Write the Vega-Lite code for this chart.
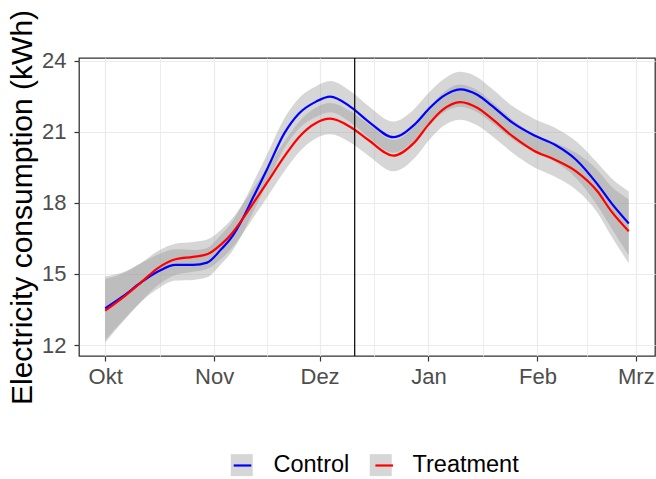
{
  "$schema": "https://vega.github.io/schema/vega-lite/v6.json",
  "width": 576,
  "height": 298,
  "autosize": {"type": "none"},
  "padding": {"left": 79, "top": 58, "right": 1, "bottom": 123},
  "background": "white",
  "config": {
    "font": "Liberation Sans",
    "view": {"stroke": "#333333", "strokeWidth": 1.3},
    "axis": {
      "domain": false,
      "tickColor": "#333333",
      "tickWidth": 1.2,
      "tickSize": 5,
      "labelFont": "Liberation Sans",
      "labelFontSize": 22,
      "labelColor": "#4d4d4d",
      "gridColor": "#ebebeb",
      "titleFont": "Liberation Sans",
      "titleFontSize": 30,
      "titleFontWeight": "normal",
      "titleColor": "#000000"
    }
  },
  "datasets": {
    "smooth": [
      {"date": "2018/10/01", "group": "Control", "y": 13.55, "lo": 12.21, "hi": 14.89},
      {"date": "2018/10/06", "group": "Control", "y": 14.05, "lo": 13.03, "hi": 15.07},
      {"date": "2018/10/11", "group": "Control", "y": 14.62, "lo": 13.80, "hi": 15.44},
      {"date": "2018/10/16", "group": "Control", "y": 15.10, "lo": 14.38, "hi": 15.82},
      {"date": "2018/10/21", "group": "Control", "y": 15.38, "lo": 14.72, "hi": 16.04},
      {"date": "2018/10/26", "group": "Control", "y": 15.38, "lo": 14.75, "hi": 16.01},
      {"date": "2018/10/30", "group": "Control", "y": 15.48, "lo": 14.86, "hi": 16.10},
      {"date": "2018/11/03", "group": "Control", "y": 16.04, "lo": 15.42, "hi": 16.66},
      {"date": "2018/11/06", "group": "Control", "y": 16.55, "lo": 15.93, "hi": 17.17},
      {"date": "2018/11/09", "group": "Control", "y": 17.30, "lo": 16.68, "hi": 17.92},
      {"date": "2018/11/12", "group": "Control", "y": 18.20, "lo": 17.58, "hi": 18.82},
      {"date": "2018/11/16", "group": "Control", "y": 19.40, "lo": 18.78, "hi": 20.02},
      {"date": "2018/11/21", "group": "Control", "y": 20.94, "lo": 20.31, "hi": 21.57},
      {"date": "2018/11/25", "group": "Control", "y": 21.75, "lo": 21.11, "hi": 22.39},
      {"date": "2018/11/30", "group": "Control", "y": 22.27, "lo": 21.62, "hi": 22.92},
      {"date": "2018/12/04", "group": "Control", "y": 22.48, "lo": 21.82, "hi": 23.14},
      {"date": "2018/12/10", "group": "Control", "y": 22.03, "lo": 21.37, "hi": 22.69},
      {"date": "2018/12/15", "group": "Control", "y": 21.42, "lo": 20.76, "hi": 22.08},
      {"date": "2018/12/22", "group": "Control", "y": 20.77, "lo": 20.11, "hi": 21.43},
      {"date": "2018/12/28", "group": "Control", "y": 21.30, "lo": 20.63, "hi": 21.97},
      {"date": "2019/01/01", "group": "Control", "y": 21.95, "lo": 21.27, "hi": 22.63},
      {"date": "2019/01/05", "group": "Control", "y": 22.48, "lo": 21.78, "hi": 23.18},
      {"date": "2019/01/10", "group": "Control", "y": 22.79, "lo": 22.05, "hi": 23.53},
      {"date": "2019/01/15", "group": "Control", "y": 22.55, "lo": 21.81, "hi": 23.29},
      {"date": "2019/01/19", "group": "Control", "y": 22.10, "lo": 21.38, "hi": 22.82},
      {"date": "2019/01/25", "group": "Control", "y": 21.37, "lo": 20.67, "hi": 22.07},
      {"date": "2019/01/31", "group": "Control", "y": 20.85, "lo": 20.15, "hi": 21.55},
      {"date": "2019/02/06", "group": "Control", "y": 20.45, "lo": 19.73, "hi": 21.17},
      {"date": "2019/02/12", "group": "Control", "y": 19.82, "lo": 19.04, "hi": 20.60},
      {"date": "2019/02/18", "group": "Control", "y": 18.80, "lo": 17.90, "hi": 19.70},
      {"date": "2019/02/22", "group": "Control", "y": 18.00, "lo": 16.95, "hi": 19.05},
      {"date": "2019/02/27", "group": "Control", "y": 17.13, "lo": 15.78, "hi": 18.48},
      {"date": "2018/10/01", "group": "Treatment", "y": 13.45, "lo": 12.11, "hi": 14.79},
      {"date": "2018/10/06", "group": "Treatment", "y": 14.00, "lo": 12.98, "hi": 15.02},
      {"date": "2018/10/11", "group": "Treatment", "y": 14.62, "lo": 13.80, "hi": 15.44},
      {"date": "2018/10/16", "group": "Treatment", "y": 15.25, "lo": 14.53, "hi": 15.97},
      {"date": "2018/10/21", "group": "Treatment", "y": 15.62, "lo": 14.96, "hi": 16.28},
      {"date": "2018/10/26", "group": "Treatment", "y": 15.72, "lo": 15.09, "hi": 16.35},
      {"date": "2018/10/30", "group": "Treatment", "y": 15.83, "lo": 15.21, "hi": 16.45},
      {"date": "2018/11/03", "group": "Treatment", "y": 16.25, "lo": 15.63, "hi": 16.87},
      {"date": "2018/11/06", "group": "Treatment", "y": 16.70, "lo": 16.08, "hi": 17.32},
      {"date": "2018/11/09", "group": "Treatment", "y": 17.30, "lo": 16.68, "hi": 17.92},
      {"date": "2018/11/12", "group": "Treatment", "y": 17.96, "lo": 17.34, "hi": 18.58},
      {"date": "2018/11/16", "group": "Treatment", "y": 18.84, "lo": 18.22, "hi": 19.46},
      {"date": "2018/11/21", "group": "Treatment", "y": 19.96, "lo": 19.33, "hi": 20.59},
      {"date": "2018/11/25", "group": "Treatment", "y": 20.75, "lo": 20.11, "hi": 21.39},
      {"date": "2018/11/30", "group": "Treatment", "y": 21.37, "lo": 20.72, "hi": 22.02},
      {"date": "2018/12/04", "group": "Treatment", "y": 21.55, "lo": 20.89, "hi": 22.21},
      {"date": "2018/12/10", "group": "Treatment", "y": 21.18, "lo": 20.52, "hi": 21.84},
      {"date": "2018/12/15", "group": "Treatment", "y": 20.64, "lo": 19.98, "hi": 21.30},
      {"date": "2018/12/22", "group": "Treatment", "y": 19.99, "lo": 19.33, "hi": 20.65},
      {"date": "2018/12/28", "group": "Treatment", "y": 20.55, "lo": 19.88, "hi": 21.22},
      {"date": "2019/01/01", "group": "Treatment", "y": 21.30, "lo": 20.62, "hi": 21.98},
      {"date": "2019/01/05", "group": "Treatment", "y": 21.92, "lo": 21.22, "hi": 22.62},
      {"date": "2019/01/10", "group": "Treatment", "y": 22.25, "lo": 21.51, "hi": 22.99},
      {"date": "2019/01/15", "group": "Treatment", "y": 22.00, "lo": 21.26, "hi": 22.74},
      {"date": "2019/01/19", "group": "Treatment", "y": 21.55, "lo": 20.83, "hi": 22.27},
      {"date": "2019/01/25", "group": "Treatment", "y": 20.80, "lo": 20.10, "hi": 21.50},
      {"date": "2019/01/31", "group": "Treatment", "y": 20.20, "lo": 19.50, "hi": 20.90},
      {"date": "2019/02/06", "group": "Treatment", "y": 19.82, "lo": 19.10, "hi": 20.54},
      {"date": "2019/02/12", "group": "Treatment", "y": 19.33, "lo": 18.55, "hi": 20.11},
      {"date": "2019/02/18", "group": "Treatment", "y": 18.50, "lo": 17.60, "hi": 19.40},
      {"date": "2019/02/22", "group": "Treatment", "y": 17.65, "lo": 16.60, "hi": 18.70},
      {"date": "2019/02/27", "group": "Treatment", "y": 16.80, "lo": 15.45, "hi": 18.15}
    ],
    "vline": [{"date": "2018/12/11"}]
  },
  "layer": [
    {
      "data": {"name": "smooth"},
      "mark": {"type": "area", "opacity": 0.4, "interpolate": "monotone"},
      "encoding": {
        "x": {
          "field": "date",
          "type": "temporal",
          "scale": {
            "domain": [
              {"year": 2018, "month": 9, "date": 23, "hours": 13},
              {"year": 2019, "month": 3, "date": 6, "hours": 11}
            ]
          },
          "axis": {
            "title": null,
            "values": [
              {"year": 2018, "month": 10, "date": 1},
              {"year": 2018, "month": 10, "date": 16, "hours": 12},
              {"year": 2018, "month": 11, "date": 1},
              {"year": 2018, "month": 11, "date": 16},
              {"year": 2018, "month": 12, "date": 1},
              {"year": 2018, "month": 12, "date": 16, "hours": 12},
              {"year": 2019, "month": 1, "date": 1},
              {"year": 2019, "month": 1, "date": 16, "hours": 12},
              {"year": 2019, "month": 2, "date": 1},
              {"year": 2019, "month": 2, "date": 15},
              {"year": 2019, "month": 3, "date": 1}
            ],
            "labelExpr": "date(datum.value) == 1 ? ['Jan','Feb','Mrz','Apr','Mai','Jun','Jul','Aug','Sep','Okt','Nov','Dez'][month(datum.value)] : ''",
            "labelOverlap": false,
            "labelFlush": false,
            "labelPadding": 5,
            "tickOpacity": {"condition": {"test": "date(datum.value) == 1", "value": 1}, "value": 0},
            "gridWidth": {"condition": {"test": "date(datum.value) == 1", "value": 1.2}, "value": 0.9}
          }
        },
        "y": {
          "field": "lo",
          "type": "quantitative",
          "scale": {"domain": [11.54, 24.11], "nice": false, "zero": false},
          "axis": {
            "title": "Electricity consumption (kWh)",
            "values": [12, 13.5, 15, 16.5, 18, 19.5, 21, 22.5, 24],
            "labelExpr": "datum.value % 3 == 0 ? datum.label : ''",
            "labelPadding": 8,
            "titlePadding": 4,
            "tickOpacity": {"condition": {"test": "datum.value % 3 == 0", "value": 1}, "value": 0},
            "gridWidth": {"condition": {"test": "datum.value % 3 == 0", "value": 1.2}, "value": 0.9}
          }
        },
        "y2": {"field": "hi"},
        "fill": {
          "field": "group",
          "type": "nominal",
          "scale": {"domain": ["Control", "Treatment"], "range": ["#999999", "#999999"]},
          "legend": {
            "title": null,
            "orient": "none",
            "legendX": 151,
            "legendY": 395,
            "direction": "horizontal",
            "symbolType": "square",
            "symbolSize": 484,
            "symbolOpacity": 0.4,
            "symbolStrokeWidth": 0,
            "labelFontSize": 23.5,
            "labelFont": "Liberation Sans",
            "labelColor": "#000000",
            "labelOffset": 20,
            "columnPadding": 19,
            "padding": 0,
            "zindex": 0
          }
        }
      }
    },
    {
      "data": {"name": "smooth"},
      "mark": {"type": "line", "strokeWidth": 2.2, "interpolate": "monotone"},
      "encoding": {
        "x": {"field": "date", "type": "temporal"},
        "y": {"field": "y", "type": "quantitative"},
        "color": {
          "field": "group",
          "type": "nominal",
          "scale": {"range": ["#0000ff", "#ff0000"]},
          "legend": {
            "title": null,
            "orient": "none",
            "legendX": 151,
            "legendY": 395,
            "direction": "horizontal",
            "symbolType": "M-0.8,0H0.8",
            "symbolSize": 484,
            "symbolStrokeWidth": 2.2,
            "labelExpr": "''",
            "labelFontSize": 23.5,
            "labelOffset": 0,
            "columnPadding": 114.7,
            "padding": 0,
            "zindex": 1
          }
        }
      }
    },
    {
      "data": {"name": "vline"},
      "mark": {"type": "rule", "color": "#000000", "strokeWidth": 1.2},
      "encoding": {"x": {"field": "date", "type": "temporal"}}
    }
  ]
}
